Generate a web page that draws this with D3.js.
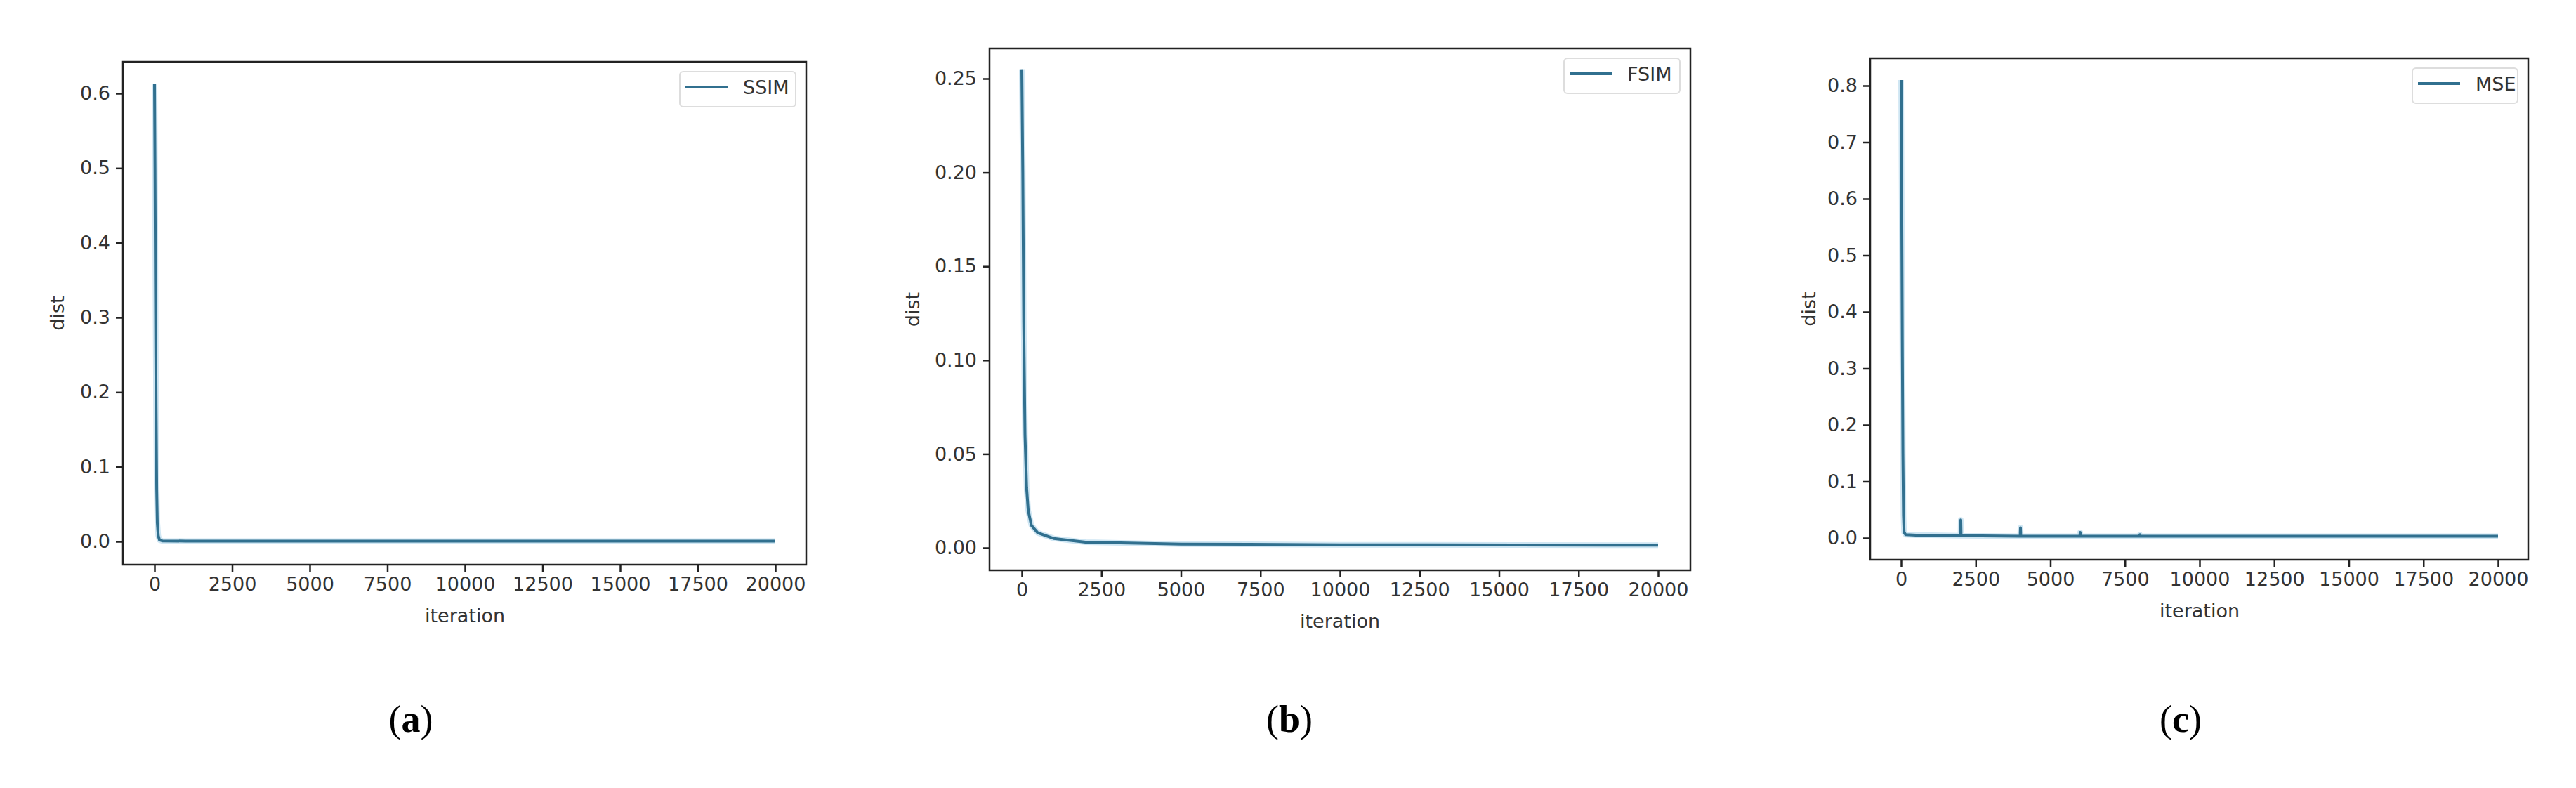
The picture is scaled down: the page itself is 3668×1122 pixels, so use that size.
<!DOCTYPE html>
<html><head><meta charset="utf-8">
<script src="https://cdn.jsdelivr.net/npm/d3@7"></script>
<style>body{margin:0;background:#fff}svg{display:block}</style>
</head><body>
<svg id="chart" width="3668" height="1122"></svg>
<script>
const xTicks=[0,2500,5000,7500,10000,12500,15000,17500,20000];

const ssimData=[[0,0.613],[15,0.5],[30,0.35],[50,0.18],[70,0.07],[90,0.025],[120,0.008],[160,0.002],[250,0.0008],[1000,0.0005],[20000,0.0004]];
const fsimData=[[0,0.255],[30,0.2],[60,0.12],[100,0.06],[150,0.032],[200,0.02],[300,0.012],[500,0.008],[1000,0.005],[2000,0.003],[5000,0.002],[10000,0.0016],[20000,0.0014]];
const mseData=[[0,0.81],[20,0.6],[40,0.35],[60,0.15],[80,0.04],[100,0.01],[150,0.006],[500,0.005],[1000,0.005],
  [1990,0.004],[2000,0.032],[2010,0.004],[3990,0.003],[4000,0.018],[4010,0.003],[5990,0.003],[6000,0.01],[6010,0.003],
  [7990,0.003],[8000,0.006],[8010,0.003],[10000,0.003],[12000,0.003],[14000,0.003],[16000,0.003],[18000,0.003],[20000,0.003]];

const yTicksA=[0,0.1,0.2,0.3,0.4,0.5,0.6];
const yTicksB=[0,0.05,0.10,0.15,0.20,0.25];
const yTicksC=[0,0.1,0.2,0.3,0.4,0.5,0.6,0.7,0.8];

const panels=[
  {name:"SSIM",caption:"a",data:ssimData,yTicks:yTicksA,fmt:d3.format(".1f"),yMax:0.6,
   frame:{l:175,r:1148,t:88,b:804},xr:[220,1104],yr:[771,133],legW:165,distX:82,capX:585},
  {name:"FSIM",caption:"b",data:fsimData,yTicks:yTicksB,fmt:d3.format(".2f"),yMax:0.25,
   frame:{l:1409,r:2407,t:69,b:812},xr:[1455,2361],yr:[780,112],legW:165,distX:1300,capX:1836},
  {name:"MSE",caption:"c",data:mseData,yTicks:yTicksC,fmt:d3.format(".1f"),yMax:0.8,
   frame:{l:2663,r:3600,t:83,b:797},xr:[2707,3557],yr:[766,122],legW:150,distX:2576,capX:3105}
];

const svg=d3.select("#chart");
const font="DejaVu Sans, sans-serif";
const lineColor="#31708f";

panels.forEach(p=>{
  const f=p.frame;
  const x=d3.scaleLinear().domain([0,20000]).range(p.xr);
  const y=d3.scaleLinear().domain([0,p.yMax]).range(p.yr);
  const g=svg.append("g");

  // halo + line
  const line=d3.line().x(d=>x(d[0])).y(d=>y(d[1]));
  g.append("path").datum(p.data).attr("d",line).attr("fill","none")
    .attr("stroke","#cfe6f3").attr("stroke-width",8).attr("stroke-linejoin","round");
  g.append("path").datum(p.data).attr("d",line).attr("fill","none")
    .attr("stroke",lineColor).attr("stroke-width",4).attr("stroke-linejoin","round");

  const xa=g.append("g").attr("transform",`translate(0,${f.b})`)
    .call(d3.axisBottom(x).tickValues(xTicks).tickFormat(d3.format("d")).tickSize(10).tickPadding(8));
  const ya=g.append("g").attr("transform",`translate(${f.l},0)`)
    .call(d3.axisLeft(y).tickValues(p.yTicks).tickFormat(p.fmt).tickSize(10).tickPadding(8));
  [xa,ya].forEach(a=>{
    a.select(".domain").remove();
    a.selectAll("line").attr("stroke","#222").attr("stroke-width",2.5);
    a.selectAll("text").attr("font-family",font).attr("font-size",27).attr("fill","#333");
  });

  g.append("rect").attr("x",f.l).attr("y",f.t).attr("width",f.r-f.l).attr("height",f.b-f.t)
    .attr("fill","none").attr("stroke","#222").attr("stroke-width",2.5);

  g.append("text").attr("x",(p.xr[0]+p.xr[1])/2).attr("y",f.b+82).attr("text-anchor","middle")
    .attr("font-family",font).attr("font-size",27).attr("fill","#333").text("iteration");
  g.append("text").attr("transform",`translate(${p.distX},${(f.t+f.b)/2}) rotate(-90)`)
    .attr("text-anchor","middle").attr("dy","0.35em")
    .attr("font-family",font).attr("font-size",27).attr("fill","#333").text("dist");

  // legend
  const lx=f.r-15-p.legW, ly=f.t+14;
  g.append("rect").attr("x",lx).attr("y",ly).attr("width",p.legW).attr("height",50).attr("rx",5)
    .attr("fill","#fff").attr("stroke","#ddd").attr("stroke-width",2);
  g.append("line").attr("x1",lx+8).attr("x2",lx+68).attr("y1",ly+22).attr("y2",ly+22)
    .attr("stroke",lineColor).attr("stroke-width",4);
  g.append("text").attr("x",lx+90).attr("y",ly+32).attr("font-family",font).attr("font-size",27)
    .attr("fill","#333").text(p.name);

  // caption
  const cap=g.append("text").attr("x",p.capX).attr("y",1042).attr("text-anchor","middle")
    .attr("font-family","Liberation Serif, serif").attr("font-size",54).attr("fill","#000");
  cap.append("tspan").text("(");
  cap.append("tspan").attr("font-weight","bold").text(p.caption);
  cap.append("tspan").text(")");
});
</script>
</body></html>
